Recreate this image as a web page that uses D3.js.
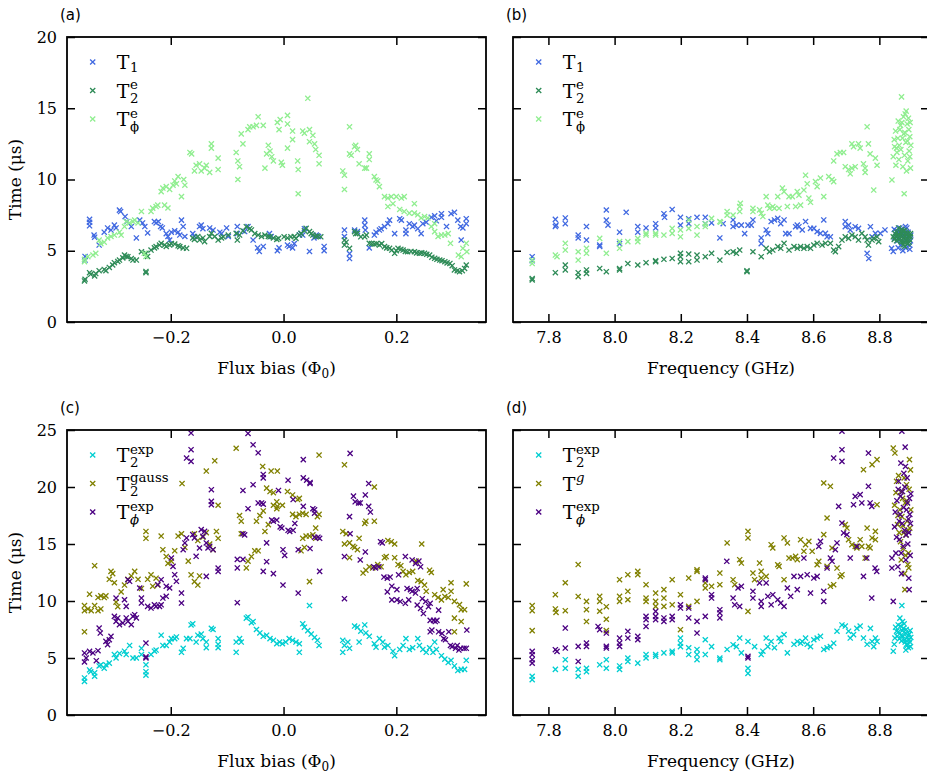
<!DOCTYPE html>
<html>
<head>
<meta charset="utf-8">
<script src="https://cdn.jsdelivr.net/npm/d3@7"></script>
<style>
       body{margin:0;background:#fff;}
       svg text{fill:#000;}
</style>
</head>
<body>
<svg id="figure"></svg>
<script>
/*Tick values*/
const fluxTicks = [-0.2, 0.0, 0.2];
const freqTicks = [7.8, 8.0, 8.2, 8.4, 8.6, 8.8];
const timeTicksTop = [0, 5, 10, 15, 20];
const timeTicksBottom = [0, 5, 10, 15, 20, 25];

/*Panel (a): [flux bias, time in us]*/
const fluxT1 = [
[-0.352,4.6],[-0.352,4.35],[-0.344,7.2],[-0.344,7.0],[-0.344,6.75],[-0.336,6.1],[-0.335,5.95],[-0.327,5.4],
[-0.318,6.3],[-0.312,6.6],[-0.306,6.45],[-0.300,6.8],[-0.297,6.6],[-0.291,7.85],[-0.289,7.75],[-0.281,7.4],[-0.278,7.05],
[-0.270,6.7],[-0.261,5.9],[-0.255,7.15],[-0.250,6.95],[-0.246,6.7],[-0.241,6.25],[-0.229,7.05],[-0.226,6.95],[-0.222,7.05],
[-0.218,6.7],[-0.215,6.6],[-0.208,6.2],[-0.205,6.0],[-0.202,5.75],[-0.199,6.3],[-0.193,6.4],[-0.187,6.3],[-0.184,6.1],
[-0.181,7.15],[-0.178,6.7],[-0.175,6.0],[-0.161,6.2],[-0.158,6.0],[-0.149,6.7],[-0.146,6.8],[-0.143,6.55],[-0.131,6.6],
[-0.125,6.45],[-0.113,6.3],[-0.110,6.2],[-0.101,6.6],[-0.098,6.0],[-0.082,6.7],[-0.082,6.2],[-0.069,6.35],[-0.063,6.7],
[-0.054,5.75],[-0.046,5.2],[-0.043,4.95],[-0.036,5.3],[-0.025,6.2],[-0.022,6.0],[-0.011,5.0],[-0.008,5.2],[0.007,5.4],
[0.010,5.3],[0.016,5.2],[0.019,5.5],[0.028,6.1],[0.031,6.2],[0.034,6.1],[0.037,6.55],[0.046,4.95],[0.054,5.9],[0.058,6.1],
[0.062,6.0],[0.072,5.3],[0.072,5.0],[0.108,6.45],[0.108,6.0],[0.117,4.8],[0.117,4.45],[0.126,6.45],[0.131,6.35],
[0.144,7.15],[0.144,6.8],[0.145,6.45],[0.152,5.2],[0.161,6.1],[0.164,6.3],[0.170,6.45],[0.173,6.55],[0.179,6.7],
[0.185,6.9],[0.188,7.15],[0.197,6.2],[0.206,7.25],[0.209,7.15],[0.217,6.45],[0.217,6.2],[0.223,6.9],[0.229,6.7],
[0.232,6.8],[0.238,6.55],[0.244,6.2],[0.247,6.9],[0.253,7.0],[0.262,7.35],[0.268,7.45],[0.271,7.1],[0.280,7.6],
[0.280,7.35],[0.289,6.7],[0.297,7.6],[0.303,7.7],[0.309,7.15],[0.314,6.7],[0.318,6.6],[0.315,5.75],[0.324,7.25],[0.324,6.9]
];
const fluxT2e = [
[-0.353,2.88],[-0.352,3.0],[-0.344,3.46],[-0.342,3.35],[-0.335,3.23],[-0.333,3.4],[-0.327,3.6],[-0.318,3.69],[-0.315,3.6],
[-0.309,3.83],[-0.303,4.0],[-0.300,4.16],[-0.294,4.25],[-0.291,4.35],[-0.285,4.5],[-0.282,4.7],[-0.279,4.6],[-0.276,4.58],
[-0.270,4.45],[-0.267,4.35],[-0.261,4.35],[-0.252,4.93],[-0.244,3.46],[-0.244,3.55],[-0.244,4.82],[-0.241,4.6],[-0.235,5.05],
[-0.229,5.2],[-0.226,5.29],[-0.220,5.4],[-0.217,5.52],[-0.211,5.4],[-0.208,5.3],[-0.202,5.4],[-0.199,5.5],[-0.193,5.47],
[-0.187,5.35],[-0.184,5.29],[-0.178,5.2],[-0.172,5.17],[-0.161,5.9],[-0.158,5.8],[-0.152,6.0],[-0.149,5.75],[-0.143,5.9],
[-0.140,5.64],[-0.131,6.0],[-0.128,6.22],[-0.122,6.0],[-0.116,5.75],[-0.110,5.9],[-0.107,5.98],[-0.098,6.1],[-0.084,6.22],
[-0.082,5.75],[-0.078,6.1],[-0.072,6.4],[-0.066,6.69],[-0.060,6.55],[-0.057,6.46],[-0.051,6.2],[-0.045,6.1],[-0.039,6.0],
[-0.033,6.1],[-0.027,6.0],[-0.024,5.98],[-0.018,5.9],[-0.012,5.8],[-0.009,5.87],[0.001,5.98],[0.007,5.9],[0.013,5.98],
[0.019,6.0],[0.022,5.87],[0.028,6.1],[0.031,6.22],[0.037,6.4],[0.040,6.57],[0.046,6.34],[0.049,6.2],[0.052,6.1],[0.057,6.0],
[0.060,6.04],[0.066,5.98],[0.108,5.75],[0.108,5.4],[0.111,5.6],[0.117,5.17],[0.126,6.34],[0.128,6.2],[0.131,6.22],
[0.137,5.98],[0.144,5.98],[0.147,6.1],[0.152,5.52],[0.156,5.5],[0.161,5.47],[0.165,5.5],[0.170,5.4],[0.174,5.5],[0.179,5.29],
[0.183,5.2],[0.188,5.17],[0.192,5.05],[0.197,4.82],[0.200,5.0],[0.203,5.17],[0.208,5.1],[0.212,5.05],[0.216,4.95],[0.220,4.93],
[0.226,4.95],[0.232,4.93],[0.236,4.85],[0.241,4.82],[0.245,4.85],[0.250,4.82],[0.254,4.75],[0.259,4.7],[0.263,4.55],
[0.268,4.47],[0.272,4.4],[0.277,4.35],[0.281,4.3],[0.286,4.23],[0.290,4.15],[0.295,4.11],[0.299,3.95],[0.303,3.65],
[0.308,3.6],[0.312,3.53],[0.317,3.6],[0.321,3.76],[0.324,4.0]
];
const fluxTphi = [
[-0.353,4.23],[-0.353,4.4],[-0.347,4.58],[-0.338,4.7],[-0.333,4.82],[-0.327,5.75],[-0.324,5.5],[-0.318,5.6],[-0.312,5.9],
[-0.306,6.0],[-0.300,6.1],[-0.291,6.3],[-0.288,6.1],[-0.282,6.7],[-0.279,7.05],[-0.273,6.95],[-0.267,7.05],[-0.264,7.15],
[-0.258,6.95],[-0.252,7.76],[-0.247,4.82],[-0.244,4.6],[-0.235,7.76],[-0.232,7.99],[-0.226,8.1],[-0.223,8.2],[-0.217,9.15],
[-0.214,9.4],[-0.208,9.5],[-0.211,8.2],[-0.205,8.0],[-0.202,9.3],[-0.196,9.6],[-0.190,9.7],[-0.193,9.9],[-0.187,10.2],
[-0.181,8.8],[-0.177,10.0],[-0.175,9.6],[-0.166,11.9],[-0.163,11.8],[-0.158,10.6],[-0.155,11.0],[-0.149,11.1],[-0.146,10.6],
[-0.140,10.8],[-0.137,11.0],[-0.131,10.5],[-0.128,12.5],[-0.128,12.2],[-0.116,11.5],[-0.116,10.7],[-0.084,11.9],[-0.081,11.3],
[-0.078,10.9],[-0.081,10.0],[-0.075,13.2],[-0.072,12.5],[-0.063,13.5],[-0.060,13.7],[-0.054,13.7],[-0.048,13.8],[-0.045,14.4],
[-0.036,13.8],[-0.033,10.8],[-0.030,11.8],[-0.024,12.0],[-0.021,11.6],[-0.018,11.3],[-0.027,12.4],[-0.011,14.0],[-0.008,13.5],
[-0.006,14.2],[-0.004,11.2],[-0.002,11.0],[0.007,14.5],[0.007,13.9],[0.007,12.2],[0.016,13.4],[0.016,12.8],[0.025,11.3],
[0.026,10.7],[0.026,9.0],[0.034,13.4],[0.037,13.25],[0.043,15.7],[0.046,13.5],[0.046,12.65],[0.052,13.1],[0.055,12.5],
[0.057,12.1],[0.063,11.7],[0.063,11.1],[0.105,10.6],[0.108,10.3],[0.108,9.3],[0.117,13.7],[0.117,11.8],[0.120,11.7],
[0.126,12.3],[0.128,12.4],[0.131,12.1],[0.134,11.1],[0.144,10.8],[0.147,10.8],[0.152,11.8],[0.152,11.4],[0.161,10.2],
[0.164,9.97],[0.170,9.5],[0.167,9.9],[0.179,8.8],[0.185,8.7],[0.191,8.8],[0.200,8.8],[0.209,8.7],[0.214,8.8],[0.185,8.1],
[0.194,8.3],[0.206,7.9],[0.214,7.75],[0.223,7.64],[0.232,7.64],[0.238,7.52],[0.244,7.3],[0.250,7.4],[0.256,7.3],[0.232,8.3],
[0.262,6.7],[0.268,6.9],[0.268,6.34],[0.274,6.0],[0.280,6.1],[0.286,6.1],[0.292,6.2],[0.296,5.52],[0.310,4.7],[0.315,4.58],
[0.318,5.17],[0.324,5.52],[0.325,4.93]
];

/*Panel (b): [frequency in GHz, time in us]*/
const freqT1 = [
[7.751,4.58],[7.751,4.3],[7.821,7.2],[7.823,6.8],[7.821,6.7],[7.851,7.3],[7.851,6.9],[7.890,6.1],[7.890,5.9],[7.915,6.7],
[7.915,5.75],[7.955,5.4],[7.955,5.3],[7.975,7.86],[7.975,7.15],[7.980,6.8],[8.015,6.3],[8.015,5.5],[8.035,7.7],[8.070,6.7],
[8.070,6.3],[8.095,6.6],[8.124,6.9],[8.124,6.6],[8.149,7.6],[8.151,7.35],[8.174,7.9],[8.199,7.35],[8.199,6.8],[8.224,7.25],
[8.224,6.9],[8.249,7.35],[8.274,7.35],[8.274,6.9],[8.293,6.95],[8.318,5.9],[8.328,6.9],[8.358,7.16],[8.358,6.7],[8.368,6.8],
[8.383,6.8],[8.393,6.2],[8.403,6.8],[8.413,6.8],[8.418,7.16],[8.443,5.9],[8.443,5.5],[8.458,6.46],[8.463,6.2],[8.473,7.05],
[8.483,7.16],[8.493,7.27],[8.502,6.9],[8.512,7.16],[8.517,6.2],[8.527,6.2],[8.547,6.69],[8.552,6.8],[8.557,6.69],[8.567,6.46],
[8.577,7.05],[8.592,6.57],[8.602,6.57],[8.612,6.34],[8.622,6.22],[8.632,7.16],[8.637,6.22],[8.642,5.98],[8.652,5.98],
[8.697,7.05],[8.697,6.69],[8.707,6.8],[8.712,6.46],[8.727,6.69],[8.737,6.57],[8.763,4.82],[8.768,4.45],[8.773,6.69],
[8.778,5.98],[8.788,6.22],[8.803,6.22],[8.817,6.46],[8.837,5.17],[8.842,4.95],[8.845,6.5],[8.850,6.0],[8.855,5.7],[8.858,6.3],
[8.862,6.6],[8.865,5.4],[8.868,6.1],[8.871,5.0],[8.874,6.4],[8.877,5.8],[8.880,5.2],[8.883,6.6],[8.886,5.5],[8.889,6.0],
[8.892,5.1],[8.894,5.7],[8.846,5.9],[8.852,6.4],[8.857,5.2],[8.861,5.9],[8.866,6.5],[8.870,5.5],[8.875,6.2],[8.879,6.7],
[8.884,5.9],[8.887,6.3],[8.891,5.4],[8.895,6.1]
];
const freqT2e = [
[7.751,2.95],[7.751,3.05],[7.821,3.46],[7.851,4.0],[7.851,3.65],[7.890,3.46],[7.890,3.18],[7.915,3.65],[7.915,3.41],
[7.955,3.76],[7.975,3.53],[8.015,3.65],[8.015,3.75],[8.040,4.1],[8.070,4.0],[8.095,4.16],[8.124,4.23],[8.124,4.3],[8.149,4.4],
[8.174,4.46],[8.199,4.82],[8.199,4.58],[8.199,4.23],[8.224,4.77],[8.224,4.23],[8.249,4.7],[8.249,4.35],[8.274,4.58],
[8.293,4.82],[8.318,4.35],[8.340,4.88],[8.358,4.93],[8.368,4.82],[8.378,5.05],[8.400,3.53],[8.400,3.6],[8.418,4.93],
[8.443,4.58],[8.458,5.17],[8.468,4.93],[8.478,5.05],[8.493,5.29],[8.502,5.17],[8.512,5.52],[8.527,5.05],[8.542,5.29],
[8.552,5.17],[8.562,5.29],[8.572,5.17],[8.582,5.29],[8.592,5.17],[8.602,5.4],[8.612,5.52],[8.627,5.4],[8.637,5.52],
[8.652,5.52],[8.662,5.05],[8.667,4.93],[8.677,5.29],[8.687,5.75],[8.697,5.98],[8.707,5.87],[8.717,6.1],[8.727,5.98],
[8.737,5.75],[8.747,6.22],[8.757,5.98],[8.763,5.75],[8.767,5.4],[8.778,5.75],[8.783,5.87],[8.793,5.98],[8.798,5.64],
[8.842,5.98],[8.847,6.22],[8.852,5.7],[8.856,6.1],[8.860,5.8],[8.864,6.3],[8.867,5.6],[8.870,6.0],[8.873,5.9],[8.876,6.4],
[8.879,5.7],[8.882,6.1],[8.885,5.5],[8.888,6.0],[8.891,5.8],[8.894,6.2],[8.868,6.5],[8.877,5.3],[8.845,5.8],[8.849,6.0],
[8.853,6.3],[8.857,5.9],[8.861,6.1],[8.865,5.7],[8.869,6.2],[8.872,6.4],[8.875,5.6],[8.878,6.0],[8.881,6.3],[8.884,5.8],
[8.887,6.2],[8.890,5.6],[8.893,6.0],[8.858,6.6],[8.872,5.4],[8.886,5.5]
];
const freqTphi = [
[7.751,4.35],[7.751,4.1],[7.821,4.7],[7.826,4.58],[7.851,5.52],[7.851,5.05],[7.890,4.93],[7.890,4.35],[7.915,5.17],
[7.915,4.82],[7.955,5.87],[7.975,4.82],[8.015,5.64],[8.015,5.17],[8.040,5.64],[8.070,5.87],[8.070,5.64],[8.095,6.22],
[8.095,6.1],[8.124,6.22],[8.124,6.1],[8.149,6.1],[8.174,6.57],[8.174,6.22],[8.199,6.46],[8.199,5.98],[8.224,7.16],[8.224,6.57],
[8.249,6.7],[8.249,6.1],[8.274,6.9],[8.274,6.7],[8.293,7.27],[8.318,7.05],[8.320,7.0],[8.340,7.75],[8.340,7.5],[8.358,7.5],
[8.378,8.1],[8.378,7.75],[8.380,8.33],[8.418,7.98],[8.418,7.75],[8.438,7.87],[8.443,7.63],[8.448,7.4],[8.458,8.8],[8.463,8.2],
[8.468,7.98],[8.478,8.1],[8.483,7.98],[8.493,8.8],[8.497,7.98],[8.507,9.4],[8.512,9.15],[8.522,8.1],[8.527,8.8],[8.537,8.8],
[8.547,8.1],[8.552,9.15],[8.557,8.9],[8.562,8.2],[8.572,9.26],[8.577,10.3],[8.582,9.7],[8.587,8.7],[8.592,8.4],[8.607,9.85],
[8.612,9.5],[8.622,10.1],[8.632,8.8],[8.647,10.2],[8.657,10.0],[8.662,9.85],[8.662,11.3],[8.672,11.8],[8.682,11.9],
[8.692,11.9],[8.697,10.9],[8.707,10.7],[8.712,10.4],[8.717,10.8],[8.727,10.9],[8.717,12.5],[8.722,12.3],[8.737,12.5],
[8.742,12.2],[8.752,11.1],[8.757,10.8],[8.757,10.5],[8.763,13.7],[8.767,12.5],[8.772,11.8],[8.783,9.26],[8.788,11.5],
[8.793,11.0],[8.838,9.97],[8.842,11.6],[8.846,12.3],[8.850,11.0],[8.853,11.9],[8.856,12.9],[8.859,11.4],[8.862,13.5],
[8.865,12.1],[8.867,15.8],[8.868,14.0],[8.871,10.9],[8.874,13.2],[8.876,11.7],[8.878,14.6],[8.880,12.6],[8.882,10.6],
[8.884,13.9],[8.886,11.3],[8.888,14.3],[8.890,12.0],[8.892,13.0],[8.894,10.8],[8.875,9.0],[8.893,14.0],[8.845,12.8],
[8.849,13.4],[8.852,12.2],[8.857,14.1],[8.860,12.4],[8.864,13.8],[8.870,12.9],[8.873,14.4],[8.877,13.3],[8.881,14.8],
[8.885,12.7],[8.889,13.5],[8.892,11.6],[8.895,12.4]
];

/*Panel (c): [flux bias, time in us]*/
const fluxT2exp = [
[-0.353,3.25],[-0.353,2.95],[-0.344,3.95],[-0.342,3.8],[-0.335,3.7],[-0.335,3.4],[-0.327,4.3],[-0.324,4.4],[-0.318,4.1],
[-0.315,4.4],[-0.309,4.55],[-0.300,5.3],[-0.297,5.0],[-0.291,5.4],[-0.282,5.6],[-0.279,5.3],[-0.273,6.1],[-0.267,5.0],
[-0.261,5.0],[-0.252,5.85],[-0.252,5.3],[-0.244,4.4],[-0.244,3.8],[-0.244,3.5],[-0.235,5.3],[-0.229,5.6],[-0.226,5.7],
[-0.217,7.0],[-0.214,6.1],[-0.208,6.1],[-0.202,6.4],[-0.199,6.7],[-0.193,6.7],[-0.190,6.85],[-0.181,5.5],[-0.178,5.85],
[-0.172,6.7],[-0.166,6.7],[-0.164,7.9],[-0.161,8.0],[-0.155,6.4],[-0.152,7.0],[-0.146,7.1],[-0.143,6.7],[-0.137,6.4],
[-0.137,5.9],[-0.128,7.6],[-0.125,7.5],[-0.116,6.7],[-0.116,6.2],[-0.116,5.9],[-0.084,6.4],[-0.084,5.5],[-0.078,6.7],
[-0.075,6.4],[-0.066,8.5],[-0.063,8.6],[-0.057,8.1],[-0.054,8.2],[-0.048,7.5],[-0.042,7.2],[-0.036,6.9],[-0.030,7.0],
[-0.024,6.7],[-0.018,6.55],[-0.012,6.25],[-0.007,6.4],[-0.002,6.25],[0.004,6.4],[0.010,6.7],[0.016,6.55],[0.022,6.4],
[0.028,6.25],[0.028,5.5],[0.034,8.0],[0.037,7.7],[0.043,7.4],[0.046,9.6],[0.049,7.1],[0.055,6.8],[0.060,6.55],[0.063,6.1],
[0.105,6.55],[0.108,6.1],[0.114,6.4],[0.117,5.85],[0.105,5.5],[0.126,7.8],[0.131,7.7],[0.137,7.35],[0.144,7.9],[0.146,7.2],
[0.134,6.4],[0.152,6.9],[0.161,6.25],[0.164,5.95],[0.170,6.7],[0.176,6.4],[0.179,5.95],[0.185,6.1],[0.194,5.6],[0.197,5.2],
[0.206,5.75],[0.212,6.1],[0.217,6.7],[0.223,5.75],[0.229,5.9],[0.238,6.7],[0.241,6.1],[0.247,5.75],[0.253,5.5],[0.259,5.9],
[0.265,5.5],[0.268,6.4],[0.271,5.75],[0.280,5.2],[0.286,4.9],[0.292,4.6],[0.297,4.8],[0.303,4.3],[0.309,3.9],[0.315,4.0],
[0.321,4.0],[0.324,4.8]
];
const fluxT2gauss = [
[-0.353,9.6],[-0.353,9.15],[-0.347,9.3],[-0.341,9.15],[-0.335,9.6],[-0.329,9.15],[-0.324,9.3],[-0.353,7.3],[-0.344,10.6],
[-0.335,13.1],[-0.329,10.3],[-0.324,10.45],[-0.318,10.3],[-0.315,10.45],[-0.309,11.9],[-0.306,12.6],[-0.303,12.4],
[-0.300,11.6],[-0.297,9.9],[-0.294,9.5],[-0.288,10.8],[-0.282,11.4],[-0.276,11.9],[-0.270,12.2],[-0.264,12.6],[-0.258,11.9],
[-0.252,11.1],[-0.244,16.1],[-0.244,15.5],[-0.241,11.9],[-0.235,12.3],[-0.232,11.3],[-0.226,12.0],[-0.223,11.4],[-0.217,15.7],
[-0.214,14.5],[-0.208,13.9],[-0.205,13.3],[-0.199,13.5],[-0.193,14.4],[-0.187,15.7],[-0.181,15.9],[-0.175,14.7],[-0.169,13.5],
[-0.164,12.3],[-0.158,11.7],[-0.152,11.4],[-0.149,12.2],[-0.180,20.3],[-0.158,15.9],[-0.152,15.3],[-0.143,15.6],[-0.137,16.0],
[-0.131,15.0],[-0.125,14.5],[-0.119,16.1],[-0.116,15.5],[-0.137,21.4],[-0.122,22.3],[-0.116,18.4],[-0.084,23.4],[-0.078,17.5],
[-0.075,17.0],[-0.075,15.9],[-0.066,12.9],[-0.063,13.5],[-0.057,13.9],[-0.051,14.4],[-0.045,14.4],[-0.048,17.0],[-0.042,17.5],
[-0.036,17.9],[-0.033,16.1],[-0.027,16.7],[-0.037,21.8],[-0.022,21.4],[-0.030,19.9],[-0.024,19.6],[-0.018,19.5],[-0.012,18.7],
[-0.018,18.4],[-0.012,18.1],[-0.011,21.4],[-0.011,18.3],[-0.002,18.4],[0.007,19.6],[0.016,19.3],[0.025,18.9],[0.028,19.0],
[0.016,17.6],[0.022,17.4],[0.028,17.6],[0.034,17.7],[0.040,17.6],[0.034,15.5],[0.040,15.7],[0.046,15.7],[0.052,15.8],
[0.057,15.5],[0.031,14.4],[0.037,14.7],[0.046,11.7],[0.057,16.4],[0.060,17.4],[0.063,17.6],[0.063,22.8],[0.108,21.95],
[0.105,16.1],[0.108,15.0],[0.111,15.9],[0.117,13.8],[0.117,15.1],[0.123,14.8],[0.126,14.7],[0.131,14.5],[0.134,15.5],
[0.144,16.8],[0.146,17.0],[0.161,17.0],[0.161,20.0],[0.141,12.45],[0.146,12.7],[0.152,13.0],[0.158,12.9],[0.167,13.2],
[0.173,13.0],[0.179,13.8],[0.182,13.9],[0.185,15.3],[0.191,15.2],[0.197,15.0],[0.245,15.0],[0.197,13.8],[0.203,13.2],
[0.208,13.1],[0.212,12.6],[0.217,12.3],[0.223,12.5],[0.229,12.6],[0.235,13.5],[0.238,11.8],[0.244,11.7],[0.250,11.4],
[0.253,10.85],[0.259,12.7],[0.262,12.5],[0.268,10.55],[0.274,10.3],[0.280,10.1],[0.283,11.0],[0.286,10.4],[0.292,10.3],
[0.297,10.85],[0.297,11.6],[0.303,9.97],[0.312,9.68],[0.315,9.24],[0.321,9.24],[0.324,11.5],[0.303,8.5],[0.315,8.2],[0.303,7.3]
];
const fluxTphiExp = [
[-0.353,5.44],[-0.350,5.0],[-0.353,4.65],[-0.344,5.58],[-0.338,5.44],[-0.329,5.64],[-0.332,4.76],[-0.327,7.63],[-0.325,7.19],
[-0.315,6.46],[-0.312,6.17],[-0.309,6.6],[-0.306,6.9],[-0.300,8.65],[-0.297,8.21],[-0.294,8.51],[-0.291,7.92],[-0.285,8.07],
[-0.279,8.51],[-0.276,8.21],[-0.270,7.92],[-0.267,8.65],[-0.264,8.8],[-0.261,8.51],[-0.297,10.26],[-0.282,10.11],[-0.279,9.53],
[-0.276,11.87],[-0.273,11.73],[-0.255,11.14],[-0.252,10.26],[-0.252,9.82],[-0.244,6.31],[-0.244,5.1],[-0.244,5.0],
[-0.241,9.53],[-0.235,9.38],[-0.229,9.67],[-0.226,9.53],[-0.220,9.53],[-0.217,9.67],[-0.214,10.26],[-0.208,10.41],
[-0.223,11.43],[-0.217,11.87],[-0.208,11.29],[-0.202,11.14],[-0.199,13.77],[-0.196,13.04],[-0.193,12.31],[-0.190,11.73],
[-0.181,10.7],[-0.181,9.82],[-0.175,15.09],[-0.172,15.53],[-0.178,14.5],[-0.161,15.82],[-0.158,15.53],[-0.155,13.92],
[-0.149,14.65],[-0.146,16.26],[-0.143,15.67],[-0.140,16.11],[-0.137,15.09],[-0.134,14.65],[-0.131,14.79],[-0.125,14.5],
[-0.172,22.54],[-0.164,22.25],[-0.164,23.27],[-0.164,24.73],[-0.128,19.76],[-0.128,18.74],[-0.128,18.45],[-0.137,12.16],
[-0.116,12.89],[-0.116,12.6],[-0.082,13.65],[-0.072,13.65],[-0.082,12.9],[-0.082,9.85],[-0.072,19.7],[-0.072,15.9],
[-0.069,15.8],[-0.063,24.7],[-0.063,18.1],[-0.054,23.7],[-0.045,23.0],[-0.054,20.2],[-0.045,18.6],[-0.039,18.6],[-0.036,18.5],
[-0.036,21.1],[-0.036,20.8],[-0.036,12.6],[-0.030,15.1],[-0.030,13.45],[-0.021,17.1],[-0.018,17.0],[-0.012,17.1],[-0.018,12.4],
[-0.009,19.7],[-0.006,16.5],[-0.003,16.4],[-0.001,14.5],[0.002,14.0],[-0.001,11.4],[0.008,20.6],[0.008,16.2],[0.011,16.1],
[0.017,16.2],[0.020,16.8],[0.017,18.9],[0.026,10.7],[0.026,14.5],[0.035,22.4],[0.035,20.8],[0.041,20.6],[0.047,20.3],
[0.047,20.4],[0.035,18.3],[0.047,14.6],[0.052,18.1],[0.055,18.0],[0.055,17.7],[0.055,15.6],[0.061,15.6],[0.064,15.5],
[0.064,12.6],[0.108,13.9],[0.108,10.2],[0.118,22.95],[0.117,17.4],[0.118,15.9],[0.124,19.2],[0.127,18.7],[0.133,18.6],
[0.136,18.6],[0.136,13.6],[0.145,19.3],[0.145,14.3],[0.151,20.3],[0.151,18.3],[0.154,17.8],[0.160,13.0],[0.163,12.9],
[0.169,13.0],[0.172,15.2],[0.175,15.1],[0.178,12.1],[0.184,12.0],[0.189,12.1],[0.192,11.3],[0.184,10.8],[0.201,11.0],
[0.192,10.1],[0.201,10.1],[0.207,9.95],[0.216,9.8],[0.222,10.1],[0.204,12.3],[0.216,13.9],[0.219,11.1],[0.225,11.0],
[0.228,10.85],[0.234,10.7],[0.237,11.1],[0.228,13.6],[0.234,13.3],[0.240,13.5],[0.243,13.0],[0.237,9.65],[0.243,9.35],
[0.248,8.9],[0.246,10.2],[0.252,9.95],[0.257,9.5],[0.260,9.8],[0.260,8.3],[0.266,8.3],[0.269,8.2],[0.272,8.3],[0.260,7.3],
[0.263,7.45],[0.275,9.2],[0.275,7.3],[0.281,7.15],[0.284,6.7],[0.287,6.6],[0.293,7.3],[0.296,6.1],[0.299,6.0],[0.305,5.85],
[0.308,6.1],[0.311,5.7],[0.314,5.85],[0.320,5.85],[0.324,5.85],[0.325,7.45]
];

/*Panel (d): [frequency in GHz, time in us]*/
const freqT2exp = [
[7.751,3.4],[7.751,3.1],[7.821,4.0],[7.851,4.1],[7.851,4.85],[7.890,4.0],[7.890,3.4],[7.915,4.1],[7.915,3.8],[7.955,4.4],
[7.975,4.85],[7.975,4.1],[8.015,4.3],[8.015,4.0],[8.040,5.0],[8.040,4.7],[8.070,4.55],[8.095,5.0],[8.095,5.3],[8.124,5.3],
[8.124,5.15],[8.149,5.45],[8.174,5.6],[8.174,5.45],[8.199,6.75],[8.199,6.3],[8.199,6.0],[8.224,5.9],[8.224,5.3],[8.249,5.75],
[8.249,5.3],[8.249,4.85],[8.274,6.6],[8.274,5.3],[8.293,6.0],[8.318,5.0],[8.318,4.85],[8.340,5.75],[8.358,6.17],[8.368,6.0],
[8.378,6.75],[8.383,5.45],[8.403,6.45],[8.403,4.1],[8.403,3.65],[8.423,6.0],[8.443,5.3],[8.448,5.6],[8.458,6.75],[8.463,6.0],
[8.473,6.45],[8.483,5.9],[8.497,6.75],[8.502,6.45],[8.512,7.05],[8.522,5.45],[8.542,6.2],[8.552,6.45],[8.562,6.3],[8.567,6.45],
[8.577,6.75],[8.582,6.2],[8.592,6.0],[8.602,6.6],[8.612,6.75],[8.622,6.9],[8.632,5.75],[8.642,5.9],[8.652,6.0],[8.662,6.3],
[8.672,7.35],[8.687,7.9],[8.697,7.8],[8.707,7.35],[8.712,6.75],[8.722,7.05],[8.732,7.6],[8.742,7.8],[8.752,6.75],[8.763,6.2],
[8.773,7.6],[8.778,6.45],[8.783,6.0],[8.788,6.75],[8.793,6.45],[8.842,5.6],[8.847,6.75],[8.852,7.35],[8.857,7.9],[8.862,8.5],
[8.866,7.0],[8.868,9.6],[8.870,8.2],[8.873,7.6],[8.876,6.6],[8.879,7.2],[8.882,6.2],[8.885,6.8],[8.888,5.9],[8.890,7.1],
[8.892,6.4],[8.894,6.0],[8.867,6.5],[8.880,5.7],[8.845,6.2],[8.849,7.7],[8.854,6.9],[8.858,7.3],[8.861,6.7],[8.864,7.8],
[8.869,7.4],[8.872,6.9],[8.875,8.0],[8.878,6.4],[8.881,7.5],[8.884,6.1],[8.887,7.0],[8.890,6.6],[8.893,7.4],[8.895,6.8]
];
const freqTg = [
[7.751,9.6],[7.751,9.15],[7.751,7.4],[7.821,10.55],[7.821,9.3],[7.823,9.0],[7.851,11.6],[7.851,9.15],[7.890,13.2],[7.890,10.4],
[7.915,9.97],[7.915,9.24],[7.915,8.2],[7.955,10.41],[7.955,9.97],[7.955,9.1],[7.975,9.5],[7.975,8.4],[7.975,7.4],[8.015,11.87],
[8.015,10.41],[8.015,9.97],[8.040,12.31],[8.040,10.85],[8.040,10.11],[8.070,12.6],[8.070,12.31],[8.095,11.43],[8.095,10.26],
[8.095,9.97],[8.124,10.7],[8.124,9.97],[8.124,9.53],[8.149,11.0],[8.149,10.26],[8.149,9.53],[8.174,11.87],[8.174,9.67],
[8.199,10.55],[8.199,7.48],[8.224,12.01],[8.224,9.53],[8.249,12.74],[8.249,12.6],[8.249,9.97],[8.274,11.58],[8.274,11.14],
[8.293,11.29],[8.318,12.45],[8.318,11.43],[8.340,15.09],[8.358,11.87],[8.363,11.43],[8.378,13.62],[8.383,13.33],[8.403,9.09],
[8.403,16.11],[8.403,15.53],[8.418,12.45],[8.423,11.87],[8.438,13.33],[8.443,12.6],[8.443,12.01],[8.458,12.16],[8.473,14.94],
[8.478,14.65],[8.493,13.18],[8.497,13.04],[8.512,15.53],[8.512,11.87],[8.522,15.09],[8.527,13.77],[8.537,13.77],[8.547,13.92],
[8.552,13.62],[8.562,15.38],[8.572,14.36],[8.577,14.94],[8.587,15.23],[8.597,14.36],[8.612,13.18],[8.617,13.48],[8.632,15.82],
[8.642,13.04],[8.652,11.29],[8.657,14.65],[8.662,11.43],[8.672,12.89],[8.682,12.16],[8.687,12.31],[8.632,20.35],[8.652,20.06],
[8.642,17.28],[8.697,16.7],[8.702,16.4],[8.707,15.38],[8.717,14.94],[8.727,14.79],[8.732,14.65],[8.742,15.38],[8.747,14.79],
[8.757,13.77],[8.763,16.4],[8.767,14.79],[8.772,14.65],[8.778,15.53],[8.788,16.11],[8.788,15.38],[8.793,18.45],[8.752,21.52],
[8.778,21.96],[8.793,22.4],[8.842,23.42],[8.847,22.98],[8.850,19.5],[8.855,16.7],[8.858,21.0],[8.862,18.0],[8.864,15.2],
[8.866,13.6],[8.868,17.4],[8.870,19.0],[8.872,14.6],[8.874,16.0],[8.876,12.4],[8.878,18.6],[8.880,15.8],[8.882,20.2],
[8.884,17.0],[8.886,13.2],[8.888,14.2],[8.890,19.8],[8.892,16.4],[8.894,21.5],[8.877,11.0],[8.889,12.9],[8.846,18.4],
[8.852,20.5],[8.856,17.5],[8.860,16.0],[8.866,19.6],[8.871,16.6],[8.875,20.8],[8.879,14.0],[8.883,18.8],[8.887,16.2],
[8.891,22.4],[8.895,18.0]
];
const freqTphiExp = [
[7.751,5.58],[7.751,5.29],[7.751,4.85],[7.751,4.55],[7.821,5.73],[7.826,5.58],[7.851,7.63],[7.851,5.87],[7.890,6.02],
[7.890,4.7],[7.915,6.31],[7.915,6.02],[7.950,7.77],[7.955,7.48],[7.975,7.19],[7.975,6.02],[7.975,5.87],[8.015,6.75],
[8.015,6.31],[8.015,6.02],[8.040,7.34],[8.040,6.75],[8.070,6.9],[8.070,6.6],[8.095,8.65],[8.095,8.36],[8.095,7.77],
[8.124,9.09],[8.124,8.65],[8.124,8.36],[8.149,8.51],[8.149,8.21],[8.174,8.65],[8.174,8.36],[8.199,9.67],[8.199,9.38],
[8.224,9.38],[8.224,8.51],[8.249,8.21],[8.249,7.19],[8.274,12.01],[8.274,11.87],[8.274,8.65],[8.293,10.55],[8.293,10.26],
[8.318,9.24],[8.318,8.95],[8.318,8.51],[8.339,13.48],[8.358,10.26],[8.363,9.67],[8.373,11.14],[8.378,9.53],[8.383,11.29],
[8.403,5.15],[8.403,5.0],[8.418,10.85],[8.418,10.26],[8.438,11.58],[8.443,9.97],[8.443,9.53],[8.458,11.58],[8.463,10.41],
[8.473,9.67],[8.478,10.55],[8.493,10.11],[8.502,9.82],[8.512,9.53],[8.522,11.14],[8.532,10.41],[8.542,12.16],[8.552,11.0],
[8.562,12.16],[8.572,13.77],[8.582,12.31],[8.592,10.7],[8.602,12.01],[8.612,12.16],[8.617,14.79],[8.622,15.23],[8.632,10.85],
[8.632,9.97],[8.642,12.89],[8.652,13.77],[8.657,13.48],[8.667,14.5],[8.672,15.09],[8.677,18.3],[8.687,16.84],[8.692,15.97],
[8.702,15.82],[8.712,13.77],[8.722,18.45],[8.727,19.18],[8.732,14.79],[8.742,19.33],[8.747,18.6],[8.752,12.16],[8.762,13.77],
[8.767,20.06],[8.772,18.6],[8.777,18.3],[8.777,10.26],[8.787,12.89],[8.792,12.6],[8.662,22.54],[8.687,23.27],[8.687,24.9],
[8.687,22.25],[8.767,22.98],[8.838,13.77],[8.838,12.89],[8.842,9.97],[8.846,16.5],[8.850,14.2],[8.853,18.8],[8.856,13.0],
[8.858,20.5],[8.861,15.4],[8.863,17.6],[8.865,22.1],[8.867,12.4],[8.868,24.9],[8.870,19.6],[8.872,14.8],[8.874,21.2],
[8.876,16.2],[8.878,23.5],[8.880,13.6],[8.882,18.0],[8.884,20.8],[8.886,15.0],[8.888,17.2],[8.890,11.0],[8.891,19.0],
[8.893,14.0],[8.894,16.8],[8.889,12.0],[8.879,21.8],[8.848,17.8],[8.852,15.6],[8.857,19.8],[8.860,17.0],[8.864,19.2],
[8.869,16.8],[8.873,18.2],[8.877,20.0],[8.881,15.8],[8.885,18.6],[8.889,16.0],[8.892,17.6],[8.895,19.4],[8.866,14.2]
];

/*Set up SVG canvas*/
const chartWidth = 927;
const chartHeight = 777;
const serif = "'DejaVu Serif', 'Liberation Serif', serif";

const svg = d3.select("#figure")
       .attr("width", chartWidth)
       .attr("height", chartHeight)
       .style("display", "block");

const marker = d3.symbol().type(d3.symbolX).size(19);

function drawPanel(p){

       const x = d3.scaleLinear().domain(p.xDomain).range([p.left, p.right]);
       const y = d3.scaleLinear().domain(p.yDomain).range([p.bottom, p.top]);
       const g = svg.append("g").attr("id", "panel-" + p.letter);

       /*clip the markers to the axes box*/
       g.append("clipPath")
              .attr("id", "clip-" + p.letter)
              .append("rect")
              .attr("x", p.left).attr("y", p.top)
              .attr("width", p.right - p.left).attr("height", p.bottom - p.top);

       const marks = g.append("g").attr("clip-path", "url(#clip-" + p.letter + ")");
       p.series.forEach((s)=>{
              marks.selectAll(null)
                     .data(s.data)
                     .enter()
                     .append("path")
                     .attr("d", marker)
                     .attr("transform", (d)=>"translate(" + x(d[0]) + "," + y(d[1]) + ")")
                     .attr("fill", "none")
                     .attr("stroke", s.color)
                     .attr("stroke-width", 1.3);
       });

       /*inward ticks on all four sides*/
       const fmt = d3.format(".1f");
       g.append("g")
              .attr("transform", "translate(0," + p.bottom + ")")
              .call(d3.axisBottom(x).tickValues(p.xTicks).tickFormat(fmt).tickSize(-8).tickPadding(10));
       g.append("g")
              .attr("transform", "translate(0," + p.top + ")")
              .call(d3.axisTop(x).tickValues(p.xTicks).tickFormat("").tickSize(-8));
       g.append("g")
              .attr("transform", "translate(" + p.left + ",0)")
              .call(d3.axisLeft(y).tickValues(p.yTicks).tickFormat(p.yLabels ? d3.format("d") : "").tickSize(-8).tickPadding(10));
       g.append("g")
              .attr("transform", "translate(" + p.right + ",0)")
              .call(d3.axisRight(y).tickValues(p.yTicks).tickFormat("").tickSize(-8));

       g.selectAll(".domain").remove();
       g.selectAll(".tick line").attr("stroke", "#000").attr("stroke-width", 1.5);
       g.selectAll(".tick text")
              .attr("font-family", serif)
              .attr("font-size", 16)
              .attr("fill", "#000");

       /*axes frame*/
       g.append("rect")
              .attr("x", p.left).attr("y", p.top)
              .attr("width", p.right - p.left).attr("height", p.bottom - p.top)
              .attr("fill", "none")
              .attr("stroke", "#000")
              .attr("stroke-width", 1.8);

       /*panel letter*/
       g.append("text")
              .text("(" + p.letter + ")")
              .attr("x", p.left - 7)
              .attr("y", p.top - 17)
              .attr("font-family", "'DejaVu Sans', sans-serif")
              .attr("font-size", 15);

       /*x axis label*/
       const xl = g.append("text")
              .attr("x", (p.left + p.right)/2)
              .attr("y", p.bottom + 52)
              .attr("text-anchor", "middle")
              .attr("font-family", serif)
              .attr("font-size", 17);
       xl.append("tspan").text(p.xLabel[0]);
       if(p.xLabel[1]){
              xl.append("tspan").text(p.xLabel[1]).attr("font-size", 12).attr("dy", 4);
              xl.append("tspan").text(p.xLabel[2]).attr("dy", -4);
       }

       /*y axis label*/
       if(p.yLabels){
              const cy = (p.top + p.bottom)/2;
              g.append("text")
                     .text("Time (μs)")
                     .attr("transform", "translate(21," + cy + ") rotate(-90)")
                     .attr("text-anchor", "middle")
                     .attr("font-family", serif)
                     .attr("font-size", 17);
       }

       /*legend*/
       const rows = [25, 53.5, 82];
       p.series.forEach((s, i)=>{
              const ry = p.top + rows[i];
              g.append("path")
                     .attr("d", marker)
                     .attr("transform", "translate(" + (p.left + 25.7) + "," + ry + ")")
                     .attr("fill", "none")
                     .attr("stroke", s.color)
                     .attr("stroke-width", 1.3);
              const tx = p.left + 49.7;
              const base = g.append("text")
                     .text("T")
                     .attr("x", tx)
                     .attr("y", ry + 7)
                     .attr("font-family", serif)
                     .attr("font-size", 19);
              const w = base.node().getComputedTextLength();
              const lab = s.label;
              if(lab.sup){
                     g.append("text")
                            .text(lab.sup)
                            .attr("x", tx + w + 0.5)
                            .attr("y", ry + 7 - 8.5)
                            .attr("font-family", serif)
                            .attr("font-style", lab.supItalic ? "italic" : "normal")
                            .attr("font-size", 13.3);
              }
              if(lab.sub){
                     g.append("text")
                            .text(lab.sub)
                            .attr("x", tx + w + 0.5)
                            .attr("y", ry + 7 + (lab.sup ? 5 : 3))
                            .attr("font-family", serif)
                            .attr("font-style", lab.subItalic ? "italic" : "normal")
                            .attr("font-size", 13.3);
              }
       });
}

const fluxDomain = [-0.384, 0.359];
const freqDomain = [7.693, 8.95];
const fluxLabel = ["Flux bias (Φ", "0", ")"];
const freqLabel = ["Frequency (GHz)"];

drawPanel({letter:"a", left:67, top:37, right:486, bottom:322,
       xDomain:fluxDomain, yDomain:[0,20], xTicks:fluxTicks, yTicks:timeTicksTop, yLabels:true, xLabel:fluxLabel,
       series:[
              {data:fluxT1, color:"#4169E1", label:{sub:"1"}},
              {data:fluxT2e, color:"#2E8B57", label:{sup:"e", sub:"2"}},
              {data:fluxTphi, color:"#90EE90", label:{sup:"e", sub:"ϕ"}}
       ]});
drawPanel({letter:"b", left:513, top:37, right:929, bottom:322,
       xDomain:freqDomain, yDomain:[0,20], xTicks:freqTicks, yTicks:timeTicksTop, yLabels:false, xLabel:freqLabel,
       series:[
              {data:freqT1, color:"#4169E1", label:{sub:"1"}},
              {data:freqT2e, color:"#2E8B57", label:{sup:"e", sub:"2"}},
              {data:freqTphi, color:"#90EE90", label:{sup:"e", sub:"ϕ"}}
       ]});
drawPanel({letter:"c", left:67, top:430, right:486, bottom:715,
       xDomain:fluxDomain, yDomain:[0,25], xTicks:fluxTicks, yTicks:timeTicksBottom, yLabels:true, xLabel:fluxLabel,
       series:[
              {data:fluxT2exp, color:"#00CED1", label:{sup:"exp", sub:"2"}},
              {data:fluxT2gauss, color:"#808000", label:{sup:"gauss", sub:"2"}},
              {data:fluxTphiExp, color:"#4B0082", label:{sup:"exp", sub:"ϕ", subItalic:true}}
       ]});
drawPanel({letter:"d", left:513, top:430, right:929, bottom:715,
       xDomain:freqDomain, yDomain:[0,25], xTicks:freqTicks, yTicks:timeTicksBottom, yLabels:false, xLabel:freqLabel,
       series:[
              {data:freqT2exp, color:"#00CED1", label:{sup:"exp", sub:"2"}},
              {data:freqTg, color:"#808000", label:{sup:"g", supItalic:true}},
              {data:freqTphiExp, color:"#4B0082", label:{sup:"exp", sub:"ϕ", subItalic:true}}
       ]});
</script>
</body>
</html>
